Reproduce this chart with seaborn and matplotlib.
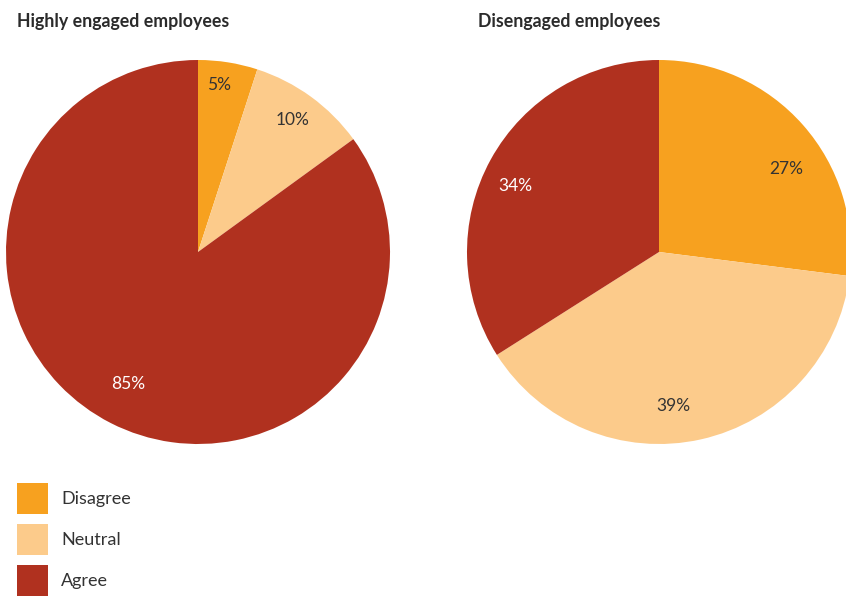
import matplotlib
matplotlib.use("Agg")
import matplotlib.pyplot as plt
from matplotlib.patches import Patch
import seaborn as sns

# Survey answers by engagement group
categories = ["Disagree", "Neutral", "Agree"]
engaged_share = [5, 10, 85]
disengaged_share = [27, 39, 34]
titles = ["Highly engaged employees", "Disengaged employees"]

colors = ["#F7A11F", "#FCCB8B", "#B0311F"]
label_colors = ["#333333", "#333333", "#FFFFFF"]

# label anchor points in pie-radius units (one per wedge)
engaged_label_pos = [(0.11, 0.87), (0.49, 0.69), (-0.365, -0.69)]
disengaged_label_pos = [(0.66, 0.43), (0.075, -0.80), (-0.75, 0.345)]

sns.set_theme(style="white")
plt.rcParams["font.family"] = ["Lato", "DejaVu Sans"]

W, H = 846, 597
fig = plt.figure(figsize=(W / 100, H / 100), dpi=100)


def pie_axes(cx, cy, r):
    return fig.add_axes([(cx - r) / W, (H - cy - r) / H, 2 * r / W, 2 * r / H])


def draw_pie(ax, values, label_pos):
    wedges, texts = ax.pie(values, colors=colors, startangle=90, counterclock=False,
                           radius=1.0, wedgeprops=dict(linewidth=0),
                           labels=[f"{v}%" for v in values], labeldistance=0.8)
    for t, (x, y), c in zip(texts, label_pos, label_colors):
        t.set_position((x, y))
        t.set_ha("center")
        t.set_va("center")
        t.set_color(c)
        t.set_fontsize(12.5)
    ax.set_xlim(-1, 1)
    ax.set_ylim(-1, 1)
    ax.set_aspect("equal")
    ax.axis("off")


ax1 = pie_axes(198, 252, 192)
draw_pie(ax1, engaged_share, engaged_label_pos)
ax2 = pie_axes(659, 252, 192)
draw_pie(ax2, disengaged_share, disengaged_label_pos)

fig.text(17 / W, 1 - 22 / H, titles[0], fontsize=12.8, fontweight="bold",
         color="#2b2b2b", ha="left", va="center")
fig.text(478 / W, 1 - 22 / H, titles[1], fontsize=12.8, fontweight="bold",
         color="#2b2b2b", ha="left", va="center")

handles = [Patch(facecolor=c, edgecolor="none") for c in colors]
leg = fig.legend(handles, categories, loc="upper left",
                 bbox_to_anchor=(17 / W, 1 - 483 / H), bbox_transform=fig.transFigure,
                 frameon=False, fontsize=13, handlelength=1.72, handleheight=2.26,
                 labelspacing=0.55, handletextpad=0.72, borderpad=0, borderaxespad=0)
for t in leg.get_texts():
    t.set_color("#333333")

fig.savefig("out.png", dpi=100, facecolor="white")
